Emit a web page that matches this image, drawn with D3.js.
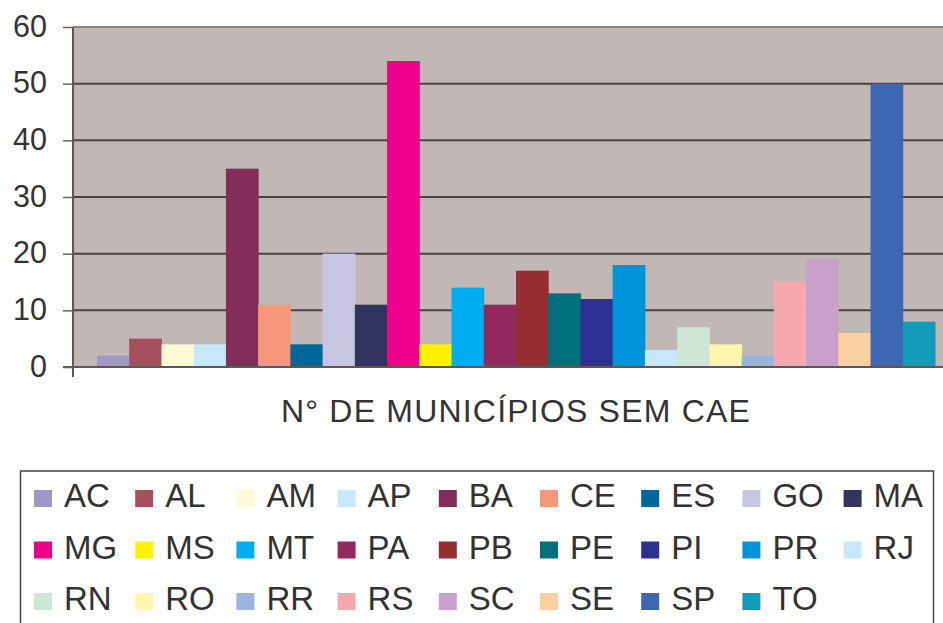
<!DOCTYPE html>
<html>
<head>
<meta charset="utf-8">
<script src="https://cdn.jsdelivr.net/npm/d3@7"></script>
<style>
  body { margin: 0; background: #fff; }
  text { font-family: "Liberation Sans", Arial, sans-serif; fill: #333; }
</style>
</head>
<body>
<div id="graph"></div>
<script>
// estados e número de municípios sem CAE
let states = ["AC","AL","AM","AP","BA","CE","ES","GO","MA","MG","MS","MT","PA","PB","PE","PI","PR","RJ","RN","RO","RR","RS","SC","SE","SP","TO"];
let values = [2,5,4,4,35,11,4,20,11,54,4,14,11,17,13,12,18,3,7,4,2,15,19,6,50,8];
let colors = ["#9f97c8","#a5505c","#fffad6","#c6e8f8","#842d58","#f4977a","#00679a","#c8c5e1","#333360",
              "#ec008c","#fff200","#00aeef","#92295f","#962d33","#00717d","#2e3192","#0095da","#c6e8f8",
              "#cde6d6","#fff6ae","#98b5de","#f5a9ae","#c8a0cb","#fbd0a0","#3e67b1","#139cb9"];
let yTicks = [0,10,20,30,40,50,60];
let title = "N° DE MUNICÍPIOS SEM CAE";

let width = 943, height = 623;
let plot = {left: 73, top: 27, right: 960, bottom: 367};

let svg = d3.select("#graph")
    .append("svg")
    .attr("width", width)
    .attr("height", height);

let x = d3.scaleBand()
    .domain(states)
    .range([97, 935])
    .padding(0);

let y = d3.scaleLinear()
    .domain([0, 60])
    .range([plot.bottom, plot.top]);

// plot background
svg.append("rect")
    .attr("x", plot.left)
    .attr("y", plot.top)
    .attr("width", plot.right - plot.left)
    .attr("height", plot.bottom - plot.top)
    .attr("fill", "#c1b7b4");

// gridlines
svg.append("g")
    .selectAll("line")
    .data(yTicks.filter(d => d > 0))
    .join("line")
    .attr("x1", plot.left)
    .attr("x2", width)
    .attr("y1", d => y(d))
    .attr("y2", d => y(d))
    .attr("stroke", d => d == 60 ? "#8c8280" : "#4a4343")
    .attr("stroke-width", 2);

// bars
svg.append("g")
    .selectAll("rect")
    .data(values)
    .join("rect")
    .attr("x", (d, i) => x(states[i]))
    .attr("y", d => y(d))
    .attr("width", x.bandwidth() + 0.5)
    .attr("height", d => y(0) - y(d))
    .attr("fill", (d, i) => colors[i]);

// baseline
svg.append("line")
    .attr("x1", 63).attr("x2", width)
    .attr("y1", y(0)).attr("y2", y(0))
    .attr("stroke", "#5e5757")
    .attr("stroke-width", 2);

// Y axis
let yAxis = d3.axisLeft(y)
    .tickValues(yTicks)
    .tickSize(10)
    .tickPadding(16);

let gy = svg.append("g")
    .attr("transform", "translate(" + plot.left + ",0)")
    .call(yAxis);
gy.select(".domain").remove();
gy.append("line")
    .attr("x1", 0).attr("x2", 0)
    .attr("y1", plot.top).attr("y2", plot.bottom + 10)
    .attr("stroke", "#5e5656")
    .attr("stroke-width", 2);
gy.selectAll(".tick line").attr("stroke", "#6b6262").attr("stroke-width", 1.5);
gy.selectAll(".tick text")
    .attr("font-size", 30.5)
    .attr("fill", "#333")
    .attr("dy", "0.3em")
    .style("font-family", "'Liberation Sans', Arial, sans-serif");

// category title
svg.append("text")
    .attr("x", 516)
    .attr("y", 422)
    .attr("text-anchor", "middle")
    .attr("font-size", 32)
    .attr("letter-spacing", 1.2)
    .text(title);

// legend
svg.append("rect")
    .attr("x", 20.5)
    .attr("y", 471)
    .attr("width", 913)
    .attr("height", 170)
    .attr("fill", "#fff")
    .attr("stroke", "#444")
    .attr("stroke-width", 1.5);

let leg = svg.append("g")
    .selectAll("g")
    .data(states)
    .join("g")
    .attr("transform", (d, i) => "translate(" + (34 + (i % 9) * 101.2) + "," + (490 + Math.floor(i / 9) * 51.5) + ")");

leg.append("rect")
    .attr("width", 18)
    .attr("height", 17)
    .attr("fill", (d, i) => colors[i]);

leg.append("text")
    .attr("x", 30)
    .attr("y", 17)
    .attr("font-size", 33)
    .text(d => d);
</script>
</body>
</html>
